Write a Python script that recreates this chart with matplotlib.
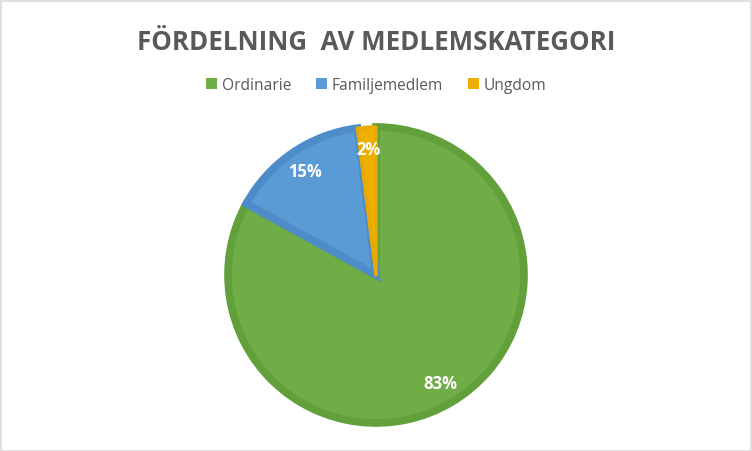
import matplotlib
matplotlib.use("Agg")
import matplotlib.pyplot as plt
from matplotlib.patches import Patch, Rectangle

categories = ["Ordinarie", "Familjemedlem", "Ungdom"]
values = [83, 15, 2]
fill_colors = ["#70AD47", "#5B9BD5", "#EEB000"]
edge_colors = ["#62A03B", "#4D8CC8", "#E6AA00"]
title = "FÖRDELNING  AV MEDLEMSKATEGORI"

W, H = 752, 452
fig = plt.figure(figsize=(W / 100, H / 100), dpi=100)
ax = fig.add_axes([0, 0, 1, 1])

cx, cy, r = 376, H - 276, 148
wedges, texts, autotexts = ax.pie(
    values, colors=fill_colors, startangle=90, counterclock=False,
    center=(cx, cy), radius=r, autopct="%d%%", pctdistance=0.85,
    wedgeprops=dict(linewidth=5.5, joinstyle="miter"),
    textprops=dict(color="white", fontsize=12, fontweight="bold", family="Open Sans"),
)
for w, ec in zip(wedges, edge_colors):
    w.set_edgecolor(ec)
wedges[2].set_joinstyle("round")
wedges[2].set_linewidth(2.5)
ax.set_xlim(0, W)
ax.set_ylim(0, H)
ax.set_aspect("equal")
ax.axis("off")

fig.text(cx / W, 1 - 43 / H, title, ha="center", va="center",
         fontsize=18.6, fontweight="bold", color="#595959", family="Open Sans")

handles = [Patch(facecolor=c, edgecolor="none") for c in fill_colors]
fig.legend(handles, categories, loc="center", bbox_to_anchor=(cx / W, 1 - 86 / H),
           ncol=3, frameon=False, handlelength=0.7, handleheight=0.7,
           handletextpad=0.3, columnspacing=1.6,
           prop=dict(family="Open Sans", size=11.2), labelcolor="#595959")

fig.patches.append(Rectangle((0.5 / W, 0.5 / H), 1 - 2 / W, 1 - 2 / H,
                             transform=fig.transFigure, fill=False,
                             edgecolor="#D9D9D9", linewidth=1.2))

fig.savefig("out.png", dpi=100)
